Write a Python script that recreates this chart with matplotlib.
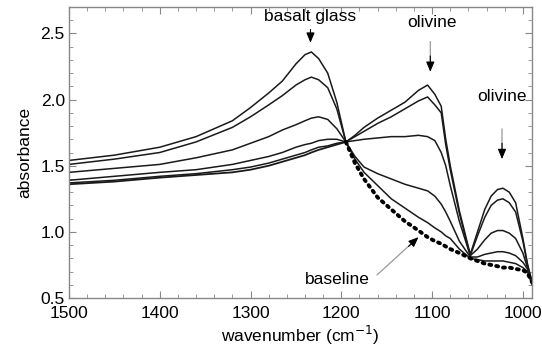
# load packages
import matplotlib
matplotlib.use('Agg')
import matplotlib.pyplot as plt
from matplotlib.ticker import MultipleLocator

plt.rcParams['font.family'] = ['Liberation Sans', 'DejaVu Sans']

# wavenumber grid the curves were read at (cm-1)
wn = [1500, 1450, 1400, 1360, 1320, 1300, 1280, 1265, 1250, 1240, 1233, 1225,
      1215, 1205, 1195, 1185, 1175, 1160, 1145, 1130, 1115, 1105, 1097, 1090,
      1085, 1080, 1070, 1058, 1050, 1042, 1035, 1028, 1022, 1015, 1008, 1000,
      995, 990]

# absorbance spectra (glass-rich -> olivine-rich)
spec_a = [1.54, 1.58, 1.64, 1.72, 1.84, 1.94, 2.05, 2.14, 2.27, 2.34, 2.36, 2.31,
          2.20, 1.98, 1.68, 1.55, 1.45, 1.35, 1.25, 1.18, 1.11, 1.07, 1.03, 1.00,
          0.97, 0.95, 0.87, 0.80, 0.79, 0.78, 0.78, 0.78, 0.78, 0.77, 0.76, 0.73,
          0.70, 0.60]
spec_b = [1.51, 1.55, 1.60, 1.68, 1.79, 1.87, 1.96, 2.03, 2.11, 2.15, 2.17, 2.15,
          2.09, 1.93, 1.68, 1.57, 1.49, 1.44, 1.40, 1.36, 1.33, 1.31, 1.27, 1.21,
          1.15, 1.08, 0.93, 0.81, 0.81, 0.83, 0.84, 0.85, 0.85, 0.84, 0.82, 0.77,
          0.72, 0.62]
spec_c = [1.45, 1.48, 1.51, 1.56, 1.62, 1.67, 1.72, 1.77, 1.81, 1.84, 1.86, 1.87,
          1.85, 1.78, 1.68, 1.69, 1.70, 1.71, 1.72, 1.72, 1.73, 1.72, 1.69, 1.60,
          1.50, 1.35, 1.08, 0.82, 0.87, 0.94, 0.99, 1.01, 1.01, 0.99, 0.95, 0.84,
          0.73, 0.62]
spec_d = [1.39, 1.42, 1.45, 1.47, 1.51, 1.54, 1.57, 1.60, 1.64, 1.66, 1.67, 1.69,
          1.70, 1.70, 1.68, 1.72, 1.76, 1.82, 1.87, 1.93, 1.99, 2.02, 1.96, 1.90,
          1.66, 1.47, 1.14, 0.82, 0.97, 1.11, 1.20, 1.24, 1.25, 1.22, 1.15, 0.93,
          0.75, 0.62]
spec_e = [1.37, 1.39, 1.42, 1.44, 1.47, 1.49, 1.52, 1.55, 1.58, 1.60, 1.62, 1.64,
          1.65, 1.67, 1.68, 1.73, 1.79, 1.86, 1.92, 1.98, 2.07, 2.11, 2.04, 1.95,
          1.70, 1.50, 1.16, 0.83, 1.00, 1.17, 1.27, 1.32, 1.33, 1.30, 1.22, 0.95,
          0.76, 0.62]
spectra = [spec_a, spec_b, spec_c, spec_d, spec_e]

# baseline
base = [1.36, 1.38, 1.41, 1.43, 1.45, 1.47, 1.50, 1.53, 1.56, 1.58, 1.60, 1.62,
        1.64, 1.66, 1.68, 1.52, 1.40, 1.26, 1.17, 1.08, 1.01, 0.96, 0.93, 0.91,
        0.89, 0.87, 0.84, 0.80, 0.78, 0.76, 0.75, 0.74, 0.73, 0.73, 0.72, 0.71,
        0.69, 0.62]
split = 14  # index of the crossing point (1195 cm-1)

FS = 12.5


def arrow(ax, x, y0, y1, head, shaft=True):
    # gray shaft with black head, pointing from y0 down to y1
    if shaft:
        ax.annotate('', xy=(x, y1), xytext=(x, y0),
                    arrowprops=dict(arrowstyle='-', color='#999999', lw=0.9))
    ax.annotate('', xy=(x, y1), xytext=(x, y1 + head),
                arrowprops=dict(arrowstyle='-|>,head_length=0.6,head_width=0.25',
                                color='black', lw=0.8, shrinkA=0, shrinkB=0))


def plotting():
    fig = plt.figure(figsize=(5.42, 3.54), dpi=100)
    ax = fig.add_axes([0.1273, 0.1582, 0.8542, 0.822])

    for s in spectra:
        ax.plot(wn, s, color='#1a1a1a', lw=1.1)

    # baseline: solid where it lies under the spectra, dotted after the crossing
    ax.plot(wn[:split + 1], base[:split + 1], color='#1a1a1a', lw=1.3)
    ax.plot(wn[split:], base[split:], color='black', lw=2.8,
            linestyle=(0, (0.5, 1.3)), dash_capstyle='round')

    ax.set_xlim(1500, 990)
    ax.set_ylim(0.5, 2.7)
    ax.xaxis.set_major_locator(MultipleLocator(100))
    ax.xaxis.set_minor_locator(MultipleLocator(20))
    ax.yaxis.set_major_locator(MultipleLocator(0.5))
    ax.yaxis.set_minor_locator(MultipleLocator(0.1))
    ax.tick_params(which='both', direction='in', top=True, right=True,
                   color='#888888', labelsize=FS)
    ax.tick_params(axis='x', pad=6)
    ax.tick_params(axis='y', pad=3)
    ax.tick_params(which='major', length=5)
    ax.tick_params(which='minor', length=3)
    for sp in ax.spines.values():
        sp.set_color('#888888')
        sp.set_linewidth(1.0)

    ax.set_xlabel('wavenumber (cm$^{-1}$)', fontsize=FS, labelpad=2)
    ax.set_ylabel('absorbance', fontsize=FS, labelpad=6)

    # labels and arrows
    ax.text(1234, 2.63, 'basalt glass', ha='center', va='center', fontsize=FS)
    arrow(ax, 1234, 2.53, 2.43, 0.1, shaft=False)
    ax.text(1100, 2.58, 'olivine', ha='center', va='center', fontsize=FS)
    arrow(ax, 1102, 2.46, 2.21, 0.12)
    ax.text(1023, 2.02, 'olivine', ha='center', va='center', fontsize=FS)
    arrow(ax, 1023, 1.80, 1.55, 0.12)
    ax.text(1204, 0.64, 'baseline', ha='center', va='center', fontsize=FS)
    ax.annotate('', xy=(1115, 0.96), xytext=(1163, 0.66),
                arrowprops=dict(arrowstyle='-', color='#999999', lw=0.9))
    ax.annotate('', xy=(1115, 0.96), xytext=(1126, 0.89),
                arrowprops=dict(arrowstyle='-|>,head_length=0.6,head_width=0.25',
                                color='black', lw=0.8, shrinkA=0, shrinkB=0))

    fig.savefig('out.png', dpi=100)


def main():
    plotting()


if __name__ == '__main__':
    main()
